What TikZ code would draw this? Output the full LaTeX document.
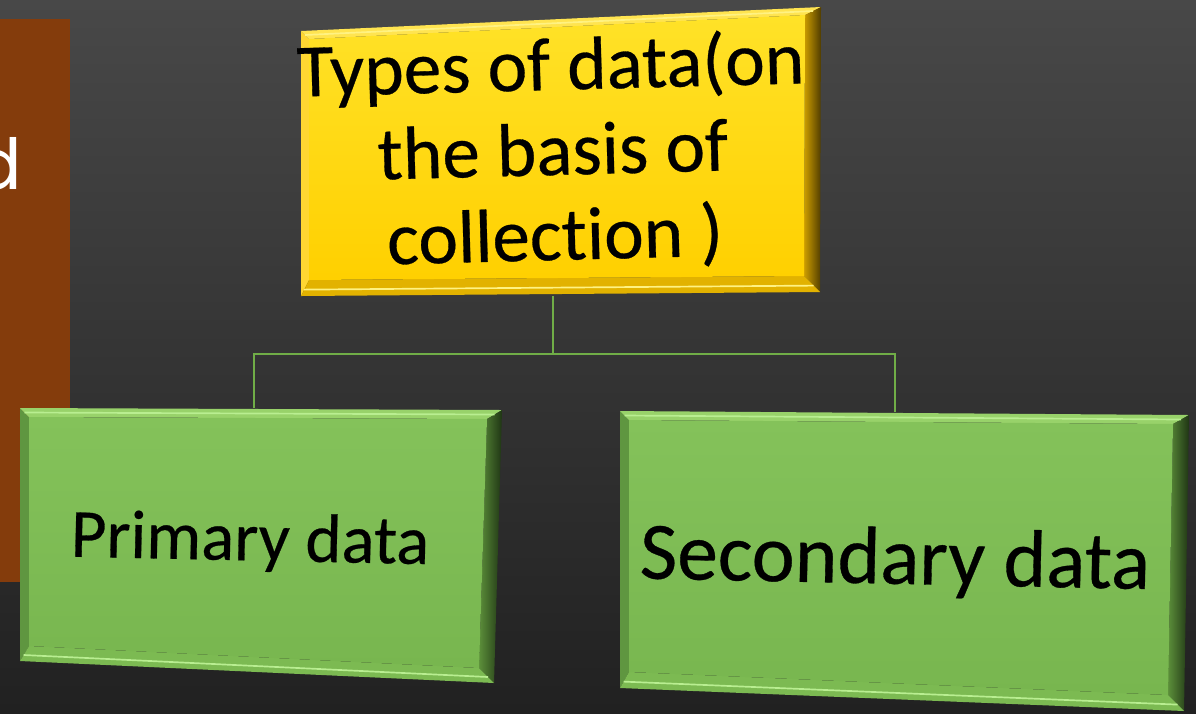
\documentclass[tikz,border=0pt]{standalone}
\usepackage{fontspec}
\setmainfont{Carlito}[Ligatures=NoCommon,FakeBold=0.4]
\newfontfamily\sidefont{Poppins}
\usetikzlibrary{calc}
\definecolor{bgtop}{HTML}{484848}
\definecolor{bgbot}{HTML}{212121}
\definecolor{brownbar}{HTML}{843C0C}
\definecolor{linkgreen}{HTML}{70AD47}
\tikzset{tbox/.style={
    rectangle,
    align=center,
    inner sep=0pt,
    text=black
  },
  link/.style={draw=linkgreen,line width=1.4pt},
  yel face/.style={top color={rgb,255:red,255;green,226;blue,40},bottom color={rgb,255:red,255;green,208;blue,0}},
  yel top/.style={fill={rgb,255:red,255;green,228;blue,80}},
  yel right/.style={left color={rgb,255:red,205;green,158;blue,0},right color={rgb,255:red,80;green,60;blue,0}},
  yel bottom/.style={fill={rgb,255:red,226;green,178;blue,0}},
  yel side/.style={fill={rgb,255:red,255;green,214;blue,50}},
  yel shine/.style={draw={rgb,255:red,255;green,242;blue,130},line width=1.2pt},
  grn face/.style={top color={rgb,255:red,132;green,194;blue,90},bottom color={rgb,255:red,120;green,182;blue,79}},
  grn top/.style={fill={rgb,255:red,152;green,210;blue,106}},
  grn right/.style={left color={rgb,255:red,92;green,143;blue,58},right color={rgb,255:red,31;green,53;blue,20}},
  grn bottom/.style={fill={rgb,255:red,124;green,186;blue,82}},
  grn side/.style={fill={rgb,255:red,95;green,150;blue,64}},
  grn shine/.style={draw={rgb,255:red,185;green,238;blue,145},line width=1.2pt},
}
% bevelled slab: kind, corners tl tr br bl, bevel left/top, right/bottom
\newcommand{\bevelbox}[7]{
  \coordinate (o1) at #2; \coordinate (o2) at #3;
  \coordinate (o3) at #4; \coordinate (o4) at #5;
  \coordinate (i1) at ($(o1)+(#6,#6)$);
  \coordinate (i2) at ($(o2)+(-#7,#6)$);
  \coordinate (i3) at ($(o3)+(-#7,-#7)$);
  \coordinate (i4) at ($(o4)+(#6,-#7)$);
  \fill[#1 side] (o1) -- (o4) -- (i4) -- (i1) -- cycle;
  \fill[#1 top] (o1) -- (o2) -- (i2) -- (i1) -- cycle;
  \shade[#1 right] (o2) -- (o3) -- (i3) -- (i2) -- cycle;
  \fill[#1 bottom] (o4) -- (o3) -- (i3) -- (i4) -- cycle;
  \shade[#1 face] (i1) -- (i2) -- (i3) -- (i4) -- cycle;
  \draw[#1 shine] ($(o1)!0.5!(i1)$) -- ($(o2)!0.5!(i2)$);
  \draw[#1 shine] ($(o4)!0.4!(i4)$) -- ($(o3)!0.4!(i3)$);
}

\begin{document}
\begin{tikzpicture}[x=0.025cm,y=-0.025cm]
  \useasboundingbox (0,0) rectangle (1196,713);
  \shade[top color=bgtop,bottom color=bgbot] (0,0) rectangle (1196,713);
  \fill[brownbar] (0,19) rectangle (70,582);
  \node[font=\sidefont\fontsize{50}{60}\selectfont,text=white,anchor=base east] (dletter) at (27,189) {d};

  \bevelbox{yel}{(301,31)}{(821,7)}{(820,292)}{(301,296)}{8}{16}
  \bevelbox{grn}{(20,408)}{(502,410)}{(494,683)}{(20,661)}{9}{15}
  \bevelbox{grn}{(620,411)}{(1189,415)}{(1184,711)}{(620,688)}{9}{16}

  \node[tbox,minimum width=13cm,minimum height=6.9cm,font=\fontsize{53.5}{60.5}\selectfont] (types) at (553,158)
    {\rotatebox{1.5}{\begin{tabular}{@{}c@{}}Types of data(on\\the basis of\\collection )\end{tabular}}};
  \node[tbox,minimum width=11cm,minimum height=6.7cm,font=\fontsize{49}{59}\selectfont] (primary) at (250,542)
    {\rotatebox{-1.2}{Primary data}};
  \node[tbox,minimum width=13.5cm,minimum height=7.5cm,font=\fontsize{58}{68}\selectfont] (secondary) at (895,562)
    {\rotatebox{-1.2}{Secondary data}};

  \draw[link] (types.south) -- ++(0,58) -| ([xshift=0.1cm]primary.north);
  \draw[link] (types.south) -- ++(0,58) -| (secondary.north);
\end{tikzpicture}
\end{document}
